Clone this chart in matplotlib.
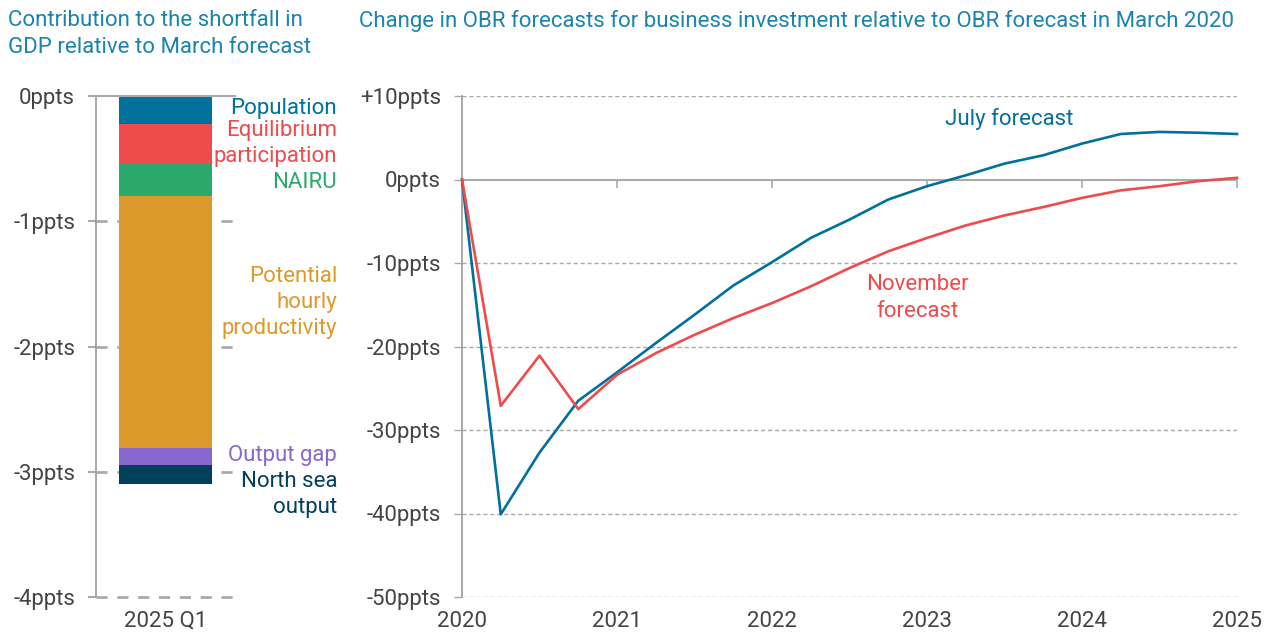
import numpy as np
import matplotlib
matplotlib.use("Agg")
from matplotlib import pyplot as plt

plt.rcParams['font.family'] = ['Roboto', 'DejaVu Sans']

# left panel: contributions to GDP shortfall (ppts), top to bottom
components = ['Population', 'Equilibrium\nparticipation', 'NAIRU',
              'Potential\nhourly\nproductivity', 'Output gap', 'North sea\noutput']
contrib = [-0.22, -0.32, -0.26, -2.01, -0.14, -0.15]
comp_colours = ['#00709c', '#ef4b4d', '#2ca86c', '#db9a2b', '#8868cc', '#00405a']

# right panel: change in business investment forecasts (ppts), quarterly
quarters = np.arange(2020, 2025.01, 0.25)
july = [0, -40.1, -32.7, -26.5, -23.1, -19.6, -16.2, -12.7, -9.9, -7.0, -4.8,
        -2.4, -0.8, 0.5, 1.9, 2.9, 4.3, 5.45, 5.7, 5.6, 5.45]
november = [0, -27.1, -21.1, -27.5, -23.4, -20.8, -18.6, -16.6, -14.8, -12.8,
            -10.6, -8.6, -7.0, -5.5, -4.3, -3.3, -2.2, -1.3, -0.8, -0.2, 0.2]

blue = '#00709c'
red = '#ef4b4d'
grid_col = '#aaaaaa'
text_col = '#444444'
title_col = '#1a84ad'
fs = 16

fig = plt.figure(figsize=(12.72, 6.37), dpi=100)

# ---- left panel ----
ax1 = fig.add_axes([96/1272, 1-597/637, 139/1272, 501/637])
bottom = 0
for v, c in zip(contrib, comp_colours):
    ax1.bar(0, v, bottom=bottom, width=0.676, color=c, zorder=3)
    bottom += v
ax1.set_xlim(-0.5, 0.5)
ax1.set_ylim(-4, 0)
ax1.set_yticks([0, -1, -2, -3, -4])
ax1.set_yticklabels(['0ppts', '-1ppts', '-2ppts', '-3ppts', '-4ppts'], va='bottom')
ax1.set_xticks([0])
ax1.set_xticklabels(['2025 Q1'])
for yv in [-1, -2, -3, -4]:
    ax1.axhline(yv, color=grid_col, lw=2, ls=(0, (4, 3.5)), zorder=1, clip_on=False)
ax1.axhline(0, color=grid_col, lw=1.5, zorder=4, clip_on=False)
for s in ['top', 'right', 'bottom']:
    ax1.spines[s].set_visible(False)
ax1.spines['left'].set_color('#999999')
ax1.spines['left'].set_linewidth(1.2)
ax1.tick_params(axis='y', length=6, color=grid_col, width=1.5, labelsize=fs,
                labelcolor=text_col, pad=9)
ax1.tick_params(axis='x', length=0, labelsize=fs, labelcolor=text_col, pad=10)
for t in ax1.get_yticklabels():
    t.set_y(t.get_position()[1])
    t.set_va('center_baseline')

label_y = [-0.10, -0.38, -0.69, -1.65, -2.87, -3.18]
for lab, c, yv in zip(components, comp_colours, label_y):
    ax1.text(1.234, yv, lab, color=c, fontsize=fs, ha='right', va='center',
             linespacing=1.33, zorder=5)

fig.text(8/1272, 1-10/637, 'Contribution to the shortfall in\nGDP relative to March forecast',
         color=title_col, fontsize=fs, ha='left', va='top', linespacing=1.4)

# ---- right panel ----
ax2 = fig.add_axes([462/1272, 1-597/637, 775/1272, 501/637])
ax2.plot(quarters, july, color=blue, lw=1.9, zorder=3, clip_on=False)
ax2.plot(quarters, november, color=red, lw=1.9, zorder=3, clip_on=False)
ax2.set_xlim(2020, 2025)
ax2.set_ylim(-50, 10)
ax2.set_yticks([10, 0, -10, -20, -30, -40, -50])
ax2.set_yticklabels(['+10ppts', '0ppts', '-10ppts', '-20ppts', '-30ppts',
                     '-40ppts', '-50ppts'])
ax2.set_xticks(range(2020, 2026))
ax2.set_xticklabels([str(y) for y in range(2020, 2026)])
for yv in [10, -10, -20, -30, -40, -50]:
    ax2.axhline(yv, color=grid_col, lw=1, ls=(0, (3, 2)), zorder=1)
ax2.axhline(0, color=grid_col, lw=1.5, zorder=2)
for yr in range(2021, 2026):
    ax2.plot([yr, yr], [0, -0.9], color=grid_col, lw=1.2, zorder=2, clip_on=False)
for s in ['top', 'right', 'bottom']:
    ax2.spines[s].set_visible(False)
ax2.spines['left'].set_color('#999999')
ax2.spines['left'].set_linewidth(1.2)
ax2.tick_params(axis='y', length=6, color=grid_col, width=1, labelsize=fs,
                labelcolor=text_col, pad=9)
ax2.tick_params(axis='x', length=0, labelsize=fs, labelcolor=text_col, pad=10)
for t in ax2.get_yticklabels():
    t.set_va('center_baseline')

ax2.text(2023.53, 7.3, 'July forecast', color=blue, fontsize=fs, ha='center', va='center')
ax2.text(2022.94, -14.2, 'November\nforecast', color=red, fontsize=fs, ha='center',
         va='center', linespacing=1.4)

fig.text(359/1272, 1-21/637,
         'Change in OBR forecasts for business investment relative to OBR forecast in March 2020',
         color=title_col, fontsize=fs, ha='left', va='center')

fig.savefig('out.png', dpi=100)
